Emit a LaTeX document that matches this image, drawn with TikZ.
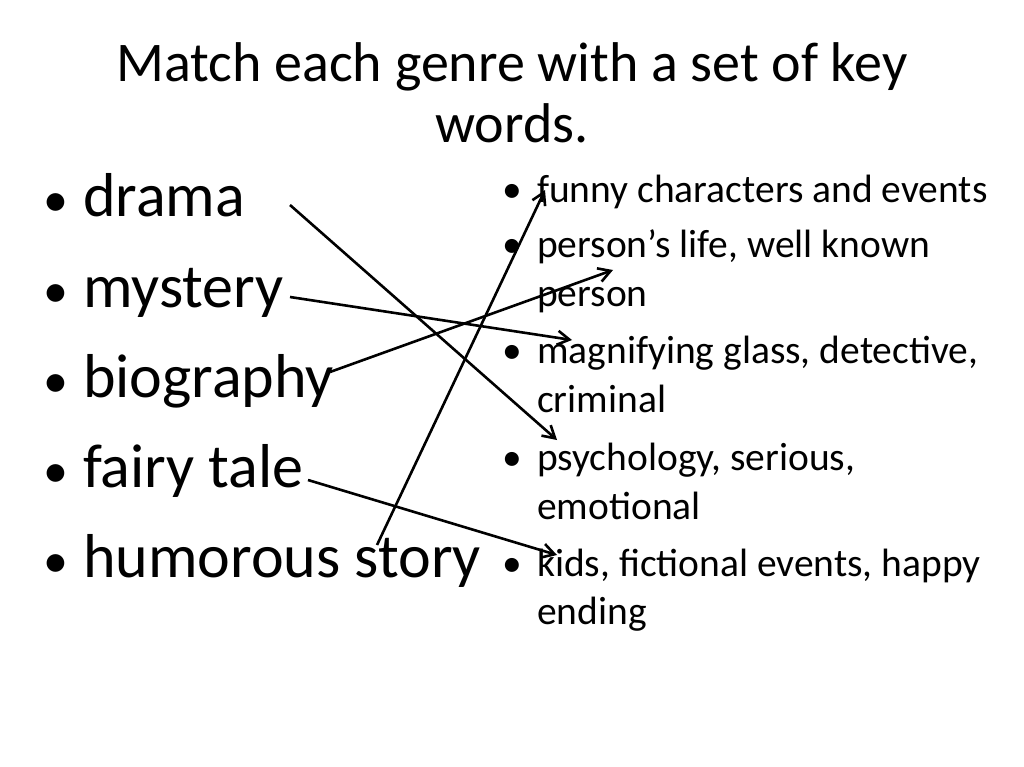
\documentclass[tikz,border=0pt]{standalone}
\usepackage{fontspec}
\setmainfont{Carlito}
\usetikzlibrary{arrows.meta}
\begin{document}
\begin{tikzpicture}[x=1pt,y=-1pt,
  big/.style={anchor=base west,inner sep=0,font=\fontsize{62}{70}\selectfont},
  small/.style={anchor=base west,inner sep=0,font=\fontsize{39.5}{48}\selectfont},
  conn/.style={line width=2.6pt,-{Straight Barb[length=12pt,width=14pt]}}]
\useasboundingbox (0,0) rectangle (1024,767);
\node[anchor=base,inner sep=0,font=\fontsize{56}{60}\selectfont] (t1) at (512,82) {Match each genre with a set of key};
\node[anchor=base,inner sep=0,font=\fontsize{56}{60}\selectfont] (t2) at (512,143) {words.};
\foreach \n/\y/\s in {a/217/drama,b/307/mystery,c/397/biography,d/487/fairy tale,e/577/humorous story}{
  \node[big] at (43,\y) {\fontsize{50}{50}\selectfont •};
  \node[big] (\n) at (83,\y) {\s};
}
\foreach \n/\y/\s in {r1/203/{funny characters and events},r2/258/{person’s life, well known},r3/363/{magnifying glass, detective,},r4/470/{psychology, serious,},r5/576/{kids, fictional events, happy}}{
  \node[small] at (502,\y) {•};
  \node[small] (\n) at (537,\y) {\s};
}
\node[small] (r2b) at (537,306) {person};
\node[small] (r3b) at (537,412) {criminal};
\node[small] (r4b) at (537,519) {emotional};
\node[small] (r5b) at (537,624) {ending};
\coordinate (a1) at (290,205); \coordinate (a2) at (557,440);
\coordinate (b1) at (290,297); \coordinate (b2) at (572,340);
\coordinate (c1) at (330,372); \coordinate (c2) at (613,270);
\coordinate (d1) at (308,480); \coordinate (d2) at (557,555);
\coordinate (e1) at (377,545); \coordinate (e2) at (545,190);
\draw[conn] (a1) -- (a2);
\draw[conn] (b1) -- (b2);
\draw[conn] (c1) -- (c2);
\draw[conn] (d1) -- (d2);
\draw[conn] (e1) -- (e2);
\end{tikzpicture}
\end{document}
